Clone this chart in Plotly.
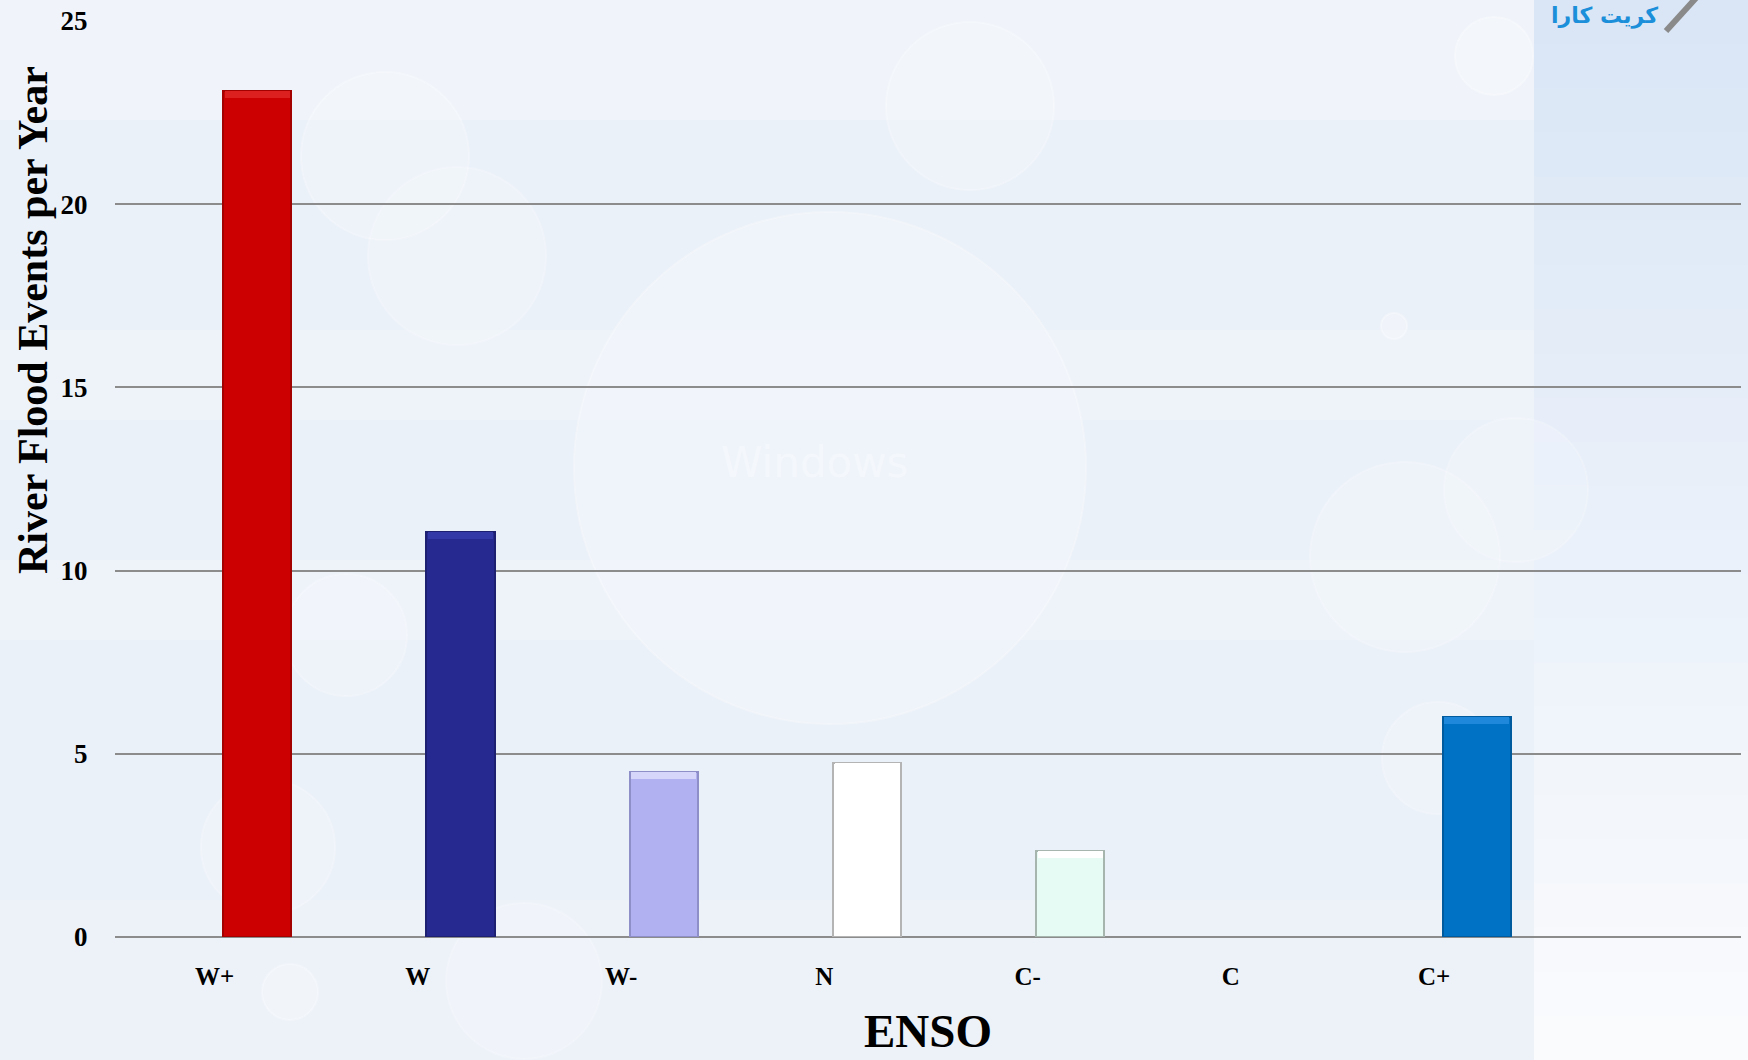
import plotly.graph_objects as go

# River flood events per year by ENSO phase
categories = ["W+", "W", "W-", "N", "C-", "C", "C+"]
flood_events = [23.1, 11.05, 4.5, 4.75, 2.35, 0, 6.0]
bar_colors = ["#cc0000", "#262a90", "#b1b1f2", "#ffffff", "#e6fbf4", "#e6fbf4", "#0072c6"]
edge_colors = ["#a30000", "#1d2070", "#8e8ec8", "#b4b4b4", "#a6b6ae", "#a6b6ae", "#005a9e"]
top_colors = ["#dc2020", "#3439a8", "#d6d6fa", "#ffffff", "#ffffff", "#ffffff", "#1f88da"]
y_ticks = [0, 5, 10, 15, 20, 25]

W, H = 1748, 1060
L, R, T, B = 115, 7, 21, 123
PW, PH = W - L - R, H - T - B


def px_x(x):
    return (x - L) / PW


def px_y(y):
    return (H - B - y) / PH


xpos = list(range(len(categories)))
label_pos = [p - 0.21 for p in xpos]

fig = go.Figure()
fig.add_trace(go.Bar(
    x=xpos,
    y=flood_events,
    width=0.335,
    marker=dict(color=bar_colors,
                line=dict(color=edge_colors, width=[2 if v > 0 else 0 for v in flood_events])),
    hoverinfo="x+y",
))
# bevelled top edge of each bar
cap = 0.2
fig.add_trace(go.Bar(
    x=[p for p, v in zip(xpos, flood_events) if v > 0],
    y=[cap for v in flood_events if v > 0],
    base=[v - cap for v in flood_events if v > 0],
    width=0.32,
    marker=dict(color=[c for c, v in zip(top_colors, flood_events) if v > 0], line=dict(width=0)),
    hoverinfo="skip",
))

shapes = []
# slide background: soft blue panel on the right, fading downwards
bands = 24
top_rgb = (218, 230, 246)
bot_rgb = (250, 251, 253)
for i in range(bands):
    t = i / (bands - 1)
    c = tuple(round(top_rgb[k] + (bot_rgb[k] - top_rgb[k]) * t) for k in range(3))
    y0 = i * H / bands
    y1 = (i + 1) * H / bands + 1
    shapes.append(dict(type="rect", xref="paper", yref="paper", layer="below",
                       x0=px_x(1534), x1=px_x(W + 2), y0=px_y(y1), y1=px_y(y0),
                       line=dict(width=0), fillcolor="rgb(%d,%d,%d)" % c))
# faint horizontal streaks on the left panel
for y0, y1, a in [(0, 120, 0.25), (330, 420, 0.18), (560, 640, 0.15), (900, 1060, 0.10)]:
    shapes.append(dict(type="rect", xref="paper", yref="paper", layer="below",
                       x0=px_x(0), x1=px_x(1534), y0=px_y(y1), y1=px_y(y0),
                       line=dict(width=0), fillcolor="rgba(255,255,255,%g)" % a))
# bubbles
bubbles = [(830, 468, 256, 0.22), (385, 156, 84, 0.18), (457, 256, 89, 0.16),
           (970, 106, 84, 0.18), (1494, 56, 39, 0.22), (1405, 557, 95, 0.16),
           (1516, 490, 72, 0.16), (346, 635, 61, 0.18), (268, 847, 67, 0.18),
           (524, 981, 78, 0.16), (290, 992, 28, 0.22), (1438, 758, 56, 0.16),
           (1394, 326, 13, 0.25)]
for cx, cy, r, a in bubbles:
    shapes.append(dict(type="circle", xref="paper", yref="paper", layer="below",
                       x0=px_x(cx - r), x1=px_x(cx + r), y0=px_y(cy + r), y1=px_y(cy - r),
                       line=dict(color="rgba(255,255,255,%g)" % (a + 0.05), width=2),
                       fillcolor="rgba(255,255,255,%g)" % a))
# pen icon next to the logo
shapes.append(dict(type="line", xref="paper", yref="paper",
                   x0=px_x(1666), y0=px_y(31), x1=px_x(1696), y1=px_y(-2),
                   line=dict(color="#8a8a8a", width=6)))

annotations = [
    dict(text="River Flood Events per Year", textangle=-90, xref="paper", yref="paper",
         x=px_x(33), y=px_y(320), showarrow=False, xanchor="center", yanchor="middle",
         font=dict(family="Liberation Serif", size=42, color="#000000")),
    dict(text="ENSO", xref="paper", yref="paper", x=px_x(928), y=px_y(1059),
         showarrow=False, xanchor="center", yanchor="bottom",
         font=dict(family="Liberation Serif", size=47, color="#000000")),
    dict(text="Windows", xref="paper", yref="paper", x=px_x(814), y=px_y(463),
         showarrow=False, font=dict(family="DejaVu Sans", size=42,
                                    color="rgba(255,255,255,0.35)")),
    dict(text="کریت کارا", xref="paper", yref="paper", x=px_x(1660), y=px_y(1),
         showarrow=False, xanchor="right", yanchor="top",
         font=dict(family="DejaVu Sans", size=22, color="#1b8fd9")),
]

fig.update_layout(
    width=W, height=H,
    margin=dict(l=L, r=R, t=T, b=B, pad=0),
    paper_bgcolor="#ebf1f9",
    plot_bgcolor="rgba(0,0,0,0)",
    showlegend=False,
    barmode="overlay",
    bargap=0,
    shapes=shapes,
    annotations=annotations,
    font=dict(family="Liberation Serif", color="#000000"),
    xaxis=dict(
        range=[-0.7, 7.3],
        tickmode="array", tickvals=label_pos, ticktext=categories,
        ticks="outside", ticklen=17, tickcolor="rgba(0,0,0,0)",
        tickfont=dict(family="Liberation Serif", size=25, color="#000000"),
        showgrid=False, zeroline=False, showline=False,
    ),
    yaxis=dict(
        range=[0, 25], tickvals=y_ticks,
        ticks="outside", ticklen=21, tickcolor="rgba(0,0,0,0)",
        tickfont=dict(family="Liberation Serif", size=27, color="#000000"),
        showgrid=True, gridcolor="#8c8c8c", gridwidth=2,
        zeroline=True, zerolinecolor="#8c8c8c", zerolinewidth=2,
        showline=False,
    ),
)

# bold serif labels throughout
fig.update_xaxes(tickfont_weight="bold")
fig.update_yaxes(tickfont_weight="bold")
for a in fig.layout.annotations[:2]:
    a.font.weight = "bold"
fig.layout.annotations[3].font.weight = "bold"

fig.write_html("out.html")
